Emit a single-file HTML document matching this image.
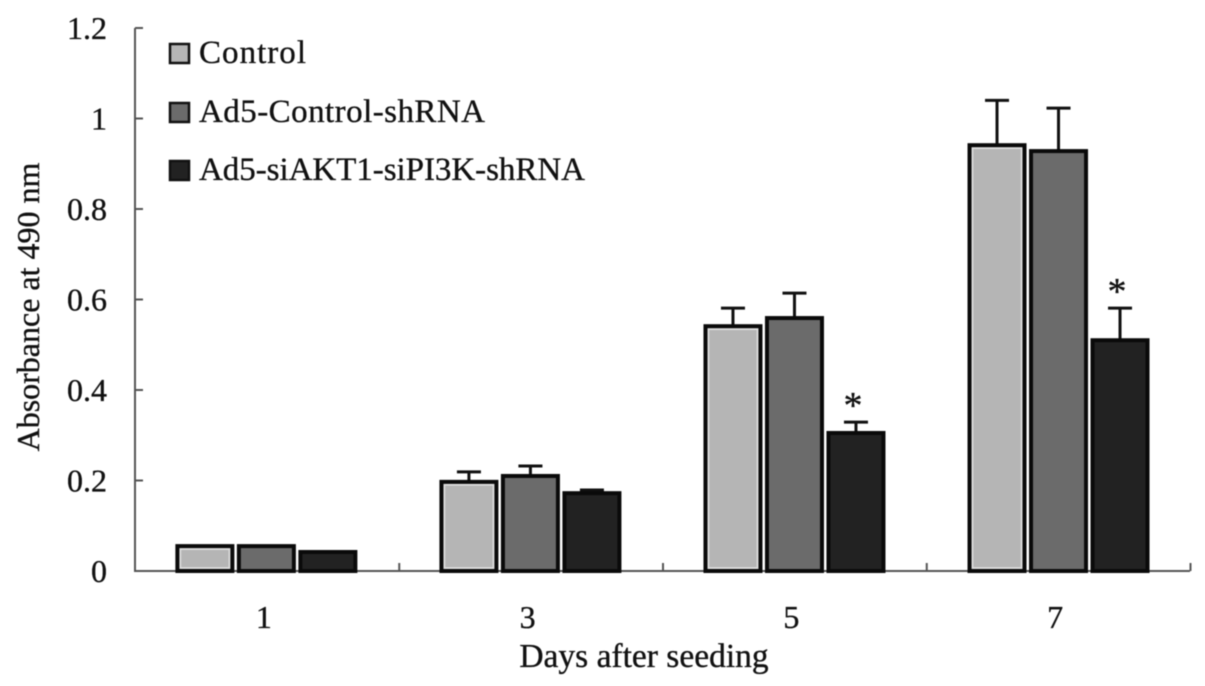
<!DOCTYPE html>
<html><head><meta charset="utf-8"><style>
html,body{margin:0;padding:0;background:#fff}
svg{display:block;filter:blur(.6px)}
text{font-family:"Liberation Serif",serif;fill:#111;stroke:#111;stroke-width:.35px}
</style></head><body>
<svg id="chart" width="1205" height="686" viewBox="0 0 1205 686" xmlns="http://www.w3.org/2000/svg"></svg>
<script>
const categories = ['1', '3', '5', '7'];
const seriesNames = ['Control', 'Ad5-Control-shRNA', 'Ad5-siAKT1-siPI3K-shRNA'];
const controlValues = [0.055, 0.197, 0.541, 0.941];
const ad5ControlValues = [0.055, 0.21, 0.559, 0.928];
const ad5SiValues = [0.042, 0.172, 0.305, 0.51];
const controlErrors = [0, 0.022, 0.04, 0.099];
const ad5ControlErrors = [0, 0.022, 0.055, 0.095];
const ad5SiErrors = [0, 0.007, 0.024, 0.071];
const significant = [[false, false, false, false], [false, false, false, false], [false, false, true, true]];
const yTicks = [0, 0.2, 0.4, 0.6, 0.8, 1, 1.2];

const svg = document.getElementById('chart');
const NS = 'http://www.w3.org/2000/svg';
const fills = ['#b5b5b5', '#6b6b6b', '#222222'];
const legendWidths = [107, 286, 386];
const x0 = 135, x1 = 1190, y0 = 571, yTop = 28;
const allValues = [controlValues, ad5ControlValues, ad5SiValues];
const allErrors = [controlErrors, ad5ControlErrors, ad5SiErrors];
const yScale = v => y0 - v / 1.2 * (y0 - yTop);
const bandW = (x1 - x0) / categories.length;
const xScale = (i, s) => x0 + bandW * (i + 0.5) + i * 0.3 + (s - 1) * 61.5 - 0.5;

function mk(tag, attrs, parent, txt) {
  const el = document.createElementNS(NS, tag);
  for (const k in attrs) el.setAttribute(k, attrs[k]);
  if (txt !== undefined) el.textContent = txt;
  (parent || svg).appendChild(el);
  return el;
}

// axes
const yAxis = mk('line', {x1: x0, x2: x0, y1: yTop, y2: y0 + 1, stroke: '#555', 'stroke-width': 2});


const xAxis = mk('line', {x1: x0 - 1, x2: x1, y1: y0, y2: y0, stroke: '#555', 'stroke-width': 2});



yTicks.forEach(t => {
  const y = yScale(t);
  if (t > 0) {
    const tick = mk('line', {x1: x0, x2: x0 + 8, y1: y, y2: y, stroke: '#555', 'stroke-width': 2});
    
    
  }
  const label = mk('text', {x: 107, y: y + 11, 'text-anchor': 'end', 'font-size': 32}, svg, String(t));
  
  
});

categories.forEach((c, i) => {
  const tx = x0 + bandW * (i + 1) + 0.5;
  const tick = mk('line', {x1: tx, x2: tx, y1: y0 - 8, y2: y0, stroke: '#555', 'stroke-width': 2});
  
  
  const label = mk('text', {x: x0 + bandW * (i + 0.5) - 3, y: 628, 'text-anchor': 'middle', 'font-size': 32}, svg, c);
  
  
});

// bars
allValues.forEach((vals, s) => {
  vals.forEach((v, i) => {
    const cx = xScale(i, s), w = 55, top = yScale(v);
    const err = allErrors[s][i];
    if (err > 0) {
      const ey = yScale(v + err);
      const stem = mk('line', {x1: cx, x2: cx, y1: top, y2: ey, stroke: '#111', 'stroke-width': 3});
      
      
      const cap = mk('line', {x1: cx - 12, x2: cx + 12, y1: ey, y2: ey, stroke: '#111', 'stroke-width': 3});
      
      
    }
    const bar = mk('rect', {x: cx - w / 2, y: top, width: w, height: y0 - top, fill: fills[s], stroke: '#0a0a0a', 'stroke-width': 4});
    
    
    if (s === 0) {
      const halo = mk('rect', {x: cx - w / 2 + 3, y: top + 3, width: w - 6, height: y0 - top - 6, fill: 'none', stroke: '#e2e2e2', 'stroke-width': 1.5});
      
      
    }
    if (significant[s][i]) {
      const star = mk('text', {x: cx - 3, y: yScale(v + err) - 4, 'text-anchor': 'middle', 'font-size': 38}, svg, '*');
      
      
    }
  });
});

// legend
const legendY = [53, 112, 170];
seriesNames.forEach((n, s) => {
  const sw = mk('rect', {x: 170, y: legendY[s] - 9, width: 19, height: 19, fill: fills[s], stroke: '#111', 'stroke-width': 2.5});
  
  
  const t = mk('text', {x: 199, y: legendY[s] + 10, 'font-size': 33, textLength: legendWidths[s], lengthAdjust: 'spacing'}, svg, n);
  
  
});

// axis titles
const xTitle = mk('text', {x: 644, y: 667, 'text-anchor': 'middle', 'font-size': 33.5}, svg, 'Days after seeding');


const yTitle = mk('text', {x: 0, y: 0, 'text-anchor': 'middle', 'font-size': 32, transform: 'translate(39 307) rotate(-90)'}, svg, 'Absorbance at 490 nm');


</script>
</body></html>
